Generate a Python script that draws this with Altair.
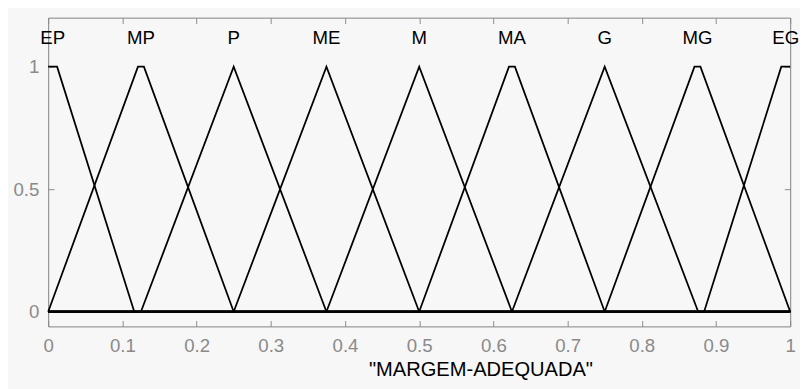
import altair as alt
import pandas as pd

# Membership functions (trapezoid parameters a, b, c, d)
mf_names = ["EP", "MP", "P", "ME", "M", "MA", "G", "MG", "EG"]
mf_a = [0.0, 0.0, 0.125, 0.25, 0.375, 0.5, 0.625, 0.75, 0.884]
mf_b = [0.0, 0.121, 0.25, 0.375, 0.5, 0.621, 0.75, 0.871, 0.988]
mf_c = [0.012, 0.129, 0.25, 0.375, 0.5, 0.629, 0.75, 0.879, 1.0]
mf_d = [0.116, 0.25, 0.375, 0.5, 0.625, 0.75, 0.876, 1.0, 1.0]

x_ticks = [0, 0.1, 0.2, 0.3, 0.4, 0.5, 0.6, 0.7, 0.8, 0.9, 1.0]
y_ticks = [0, 0.5, 1]
x_title = '"MARGEM-ADEQUADA"'

rows = []
for name, a, b, c, d in zip(mf_names, mf_a, mf_b, mf_c, mf_d):
    pts = []
    if a > 0:
        pts.append((0.0, 0.0))
    if a < b:
        pts.append((a, 0.0))
    pts.append((b, 1.0))
    if c > b:
        pts.append((c, 1.0))
    if d > c:
        pts.append((d, 0.0))
    if d < 1:
        pts.append((1.0, 0.0))
    for i, (x, y) in enumerate(pts):
        rows.append({"mf": name, "i": i, "x": x, "y": y})
df = pd.DataFrame(rows)

lab_df = pd.DataFrame({
    "mf": mf_names,
    "px": [(b + c) / 2 for b, c in zip(mf_b, mf_c)],
})

FONT = "Liberation Sans"
GRAY = "#8a8a8a"
xs = alt.Scale(domain=[0, 1], nice=False, zero=False)
ys = alt.Scale(domain=[-0.06, 1.2], nice=False, zero=False)

common = dict(domain=False, grid=False, tickSize=6, offset=-6, tickColor=GRAY,
              tickWidth=1, labelFont=FONT, labelFontSize=19, labelColor=GRAY)

lines = alt.Chart(df).mark_line(color="black", strokeWidth=1.8).encode(
    x=alt.X("x:Q", scale=xs, axis=alt.Axis(
        orient="bottom", values=x_ticks, format="~g", labelPadding=11,
        title=x_title, titleFont=FONT, titleFontSize=20.5, titleFontWeight="normal",
        titleColor="black", titleX=441, titleY=50, titleAlign="center",
        titleBaseline="middle", labelFlush=False, **common)),
    y=alt.Y("y:Q", scale=ys, axis=alt.Axis(
        orient="left", values=y_ticks, format="~g", labelPadding=9.5,
        title=None, labelBaseline="middle", **common)),
    detail="mf:N",
    order=alt.Order("i:Q"),
)

labels = alt.Chart(lab_df).mark_text(
    font=FONT, fontSize=19, color="black", baseline="middle", align="center"
).encode(
    x=alt.X("px:Q", scale=xs, axis=alt.Axis(
        orient="top", values=x_ticks, labels=False, title=None, **common)),
    y=alt.Y(datum=1.115, scale=ys, axis=alt.Axis(
        orient="right", values=y_ticks, labels=False, title=None, **common)),
    text="mf:N",
)

chart = alt.layer(lines, labels).resolve_axis(
    x="independent", y="independent"
).properties(
    width=757, height=315,
    autosize=alt.AutoSizeParams(type="none"),
    padding={"left": 41, "top": 6, "right": 10, "bottom": 60},
    background="#f7f7f7",
).configure_view(stroke="#808080", strokeWidth=1, fill=None)

chart.save("out.html", embed_options={"renderer": "svg", "actions": False})
